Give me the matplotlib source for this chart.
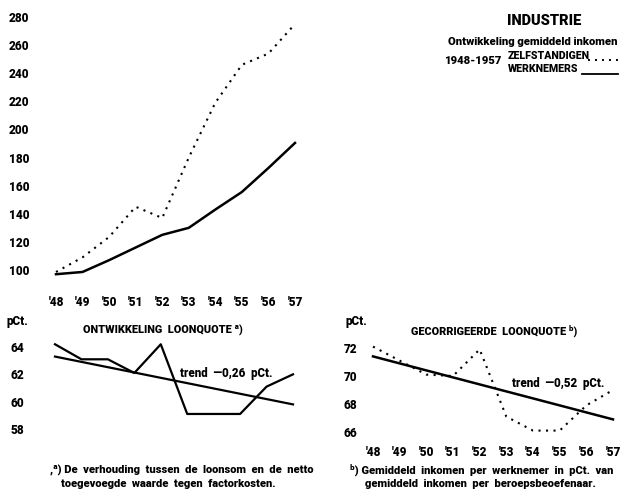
import matplotlib
matplotlib.use('Agg')
import matplotlib.pyplot as plt
from matplotlib.lines import Line2D

# ---------------- data ----------------
years = [48, 49, 50, 51, 52, 53, 54, 55, 56, 57]
year_labels = ["'48", "'49", "'50", "'51", "'52", "'53", "'54", "'55", "'56", "'57"]

zelfstandigen = [98.6, 109, 123.5, 145, 137, 180, 219, 246, 254, 275]
werknemers = [97, 98.6, 107, 116, 125, 130, 143, 155.5, 172.6, 190.4]
top_yticks = [100, 120, 140, 160, 180, 200, 220, 240, 260, 280]

loonquote = [64.2, 63.1, 63.1, 62.1, 64.2, 59.1, 59.1, 59.1, 61.1, 62.0]
loonquote_trend = [63.3, 59.8]          # value in '48 and in '57
loon_yticks = [58, 60, 62, 64]

gecorrigeerd = [72.1, 71.1, 70.1, 70.0, 71.9, 67.1, 66.1, 66.1, 67.9, 69.0]
gecorrigeerd_trend = [71.4, 66.9]       # value in '48 and in '57
gecorr_yticks = [66, 68, 70, 72]

# ---------------- style ----------------
W, H, DPI = 624, 500, 100
PT = 72 / DPI  # points per pixel
FONT = ['Roboto', 'DejaVu Sans']
WEIGHT = 'heavy'
plt.rcParams['font.family'] = FONT
plt.rcParams['font.weight'] = WEIGHT
DOT = (0, (1, 2.6))
TICK_FS = 8.5

fig = plt.figure(figsize=(W / DPI, H / DPI), dpi=DPI)
fig.patch.set_facecolor('white')


def make_axes(x0, x1, y_top, y_bot, xlim, ylim):
    ax = fig.add_axes([x0 / W, 1 - y_bot / H, (x1 - x0) / W, (y_bot - y_top) / H])
    ax.set_xlim(*xlim)
    ax.set_ylim(*ylim)
    for s in ax.spines.values():
        s.set_visible(False)
    ax.set_facecolor('none')
    ax.tick_params(length=0)
    return ax


def ftext(x, y, s, **kw):
    kw.setdefault('fontsize', 8)
    kw.setdefault('fontweight', WEIGHT)
    fig.text(x / W, 1 - y / H, s, **kw)


# ---------------- top chart ----------------
ax1 = make_axes(56, 295, 17, 270, (48, 57), (100, 280))
ax1.plot(years, zelfstandigen, color='black', lw=1.5, linestyle=DOT, clip_on=False)
ax1.plot(years, werknemers, color='black', lw=1.8, clip_on=False, solid_joinstyle='round')
ax1.set_yticks(top_yticks)
ax1.set_yticklabels([str(v) for v in top_yticks], fontsize=TICK_FS, fontweight=WEIGHT)
ax1.tick_params(axis='y', pad=27 * PT)
ax1.set_xticks(years)
ax1.set_xticklabels(year_labels, fontsize=TICK_FS, fontweight=WEIGHT)
ax1.tick_params(axis='x', pad=19)

# legend / title block
ftext(544, 21, 'INDUSTRIE', ha='center', va='center', fontsize=10.5)
ftext(618, 42, 'Ontwikkeling gemiddeld inkomen', ha='right', va='center', fontsize=8.1)
ftext(444, 61, '1948-1957', ha='left', va='center', fontsize=8.1)
ftext(508, 56, 'ZELFSTANDIGEN', ha='left', va='center', fontsize=7.6)
ftext(508, 69, 'WERKNEMERS', ha='left', va='center', fontsize=7.6)
fig.add_artist(Line2D([588 / W, 618 / W], [1 - 60 / H, 1 - 60 / H], color='black',
                      lw=1.4, linestyle=DOT))
fig.add_artist(Line2D([582 / W, 618 / W], [1 - 74 / H, 1 - 74 / H], color='black', lw=1.3))

# ---------------- bottom left chart ----------------
ax2 = make_axes(55, 293, 347, 429, (48, 57), (58, 64))
ax2.plot(years, loonquote, color='black', lw=1.6, clip_on=False)
ax2.plot([years[0], years[-1]], loonquote_trend, color='black', lw=1.6, clip_on=False)
ax2.set_yticks(loon_yticks)
ax2.set_yticklabels([str(v) for v in loon_yticks], fontsize=TICK_FS, fontweight=WEIGHT)
ax2.tick_params(axis='y', pad=31 * PT)
ax2.set_xticks([])
ftext(17, 321, 'pCt.', ha='center', va='center', fontsize=TICK_FS)
ftext(163, 330, 'ONTWIKKELING  LOONQUOTE \u1d43)', ha='center', va='center', fontsize=7.8)
ftext(180, 374, 'trend  \u20140,26  pCt.', ha='left', va='center', fontsize=8.3)
ftext(50, 470, ',\u1d43) De  verhouding  tussen  de  loonsom  en  de  netto', ha='left',
      va='center', fontsize=8.0)
ftext(61, 484, 'toegevoegde  waarde  tegen  factorkosten.', ha='left', va='center',
      fontsize=8.0)

# ---------------- bottom right chart ----------------
ax3 = make_axes(373, 613, 348, 432, (48, 57), (66, 72))
ax3.plot(years, gecorrigeerd, color='black', lw=1.5, linestyle=DOT, clip_on=False)
ax3.plot([years[0], years[-1]], gecorrigeerd_trend, color='black', lw=1.8, clip_on=False)
ax3.set_yticks(gecorr_yticks)
ax3.set_yticklabels([str(v) for v in gecorr_yticks], fontsize=TICK_FS, fontweight=WEIGHT)
ax3.tick_params(axis='y', pad=16 * PT)
ax3.set_xticks(years)
ax3.set_xticklabels(year_labels, fontsize=TICK_FS, fontweight=WEIGHT)
ax3.tick_params(axis='x', pad=14 * PT)
ftext(356, 321, 'pCt.', ha='center', va='center', fontsize=TICK_FS)
ftext(494, 331, 'GECORRIGEERDE  LOONQUOTE \u1d47)', ha='center', va='center', fontsize=7.8)
ftext(512, 383, 'trend  \u20140,52  pCt.', ha='left', va='center', fontsize=8.3)
ftext(350, 470, '\u1d47) Gemiddeld  inkomen  per  werknemer  in  pCt.  van', ha='left',
      va='center', fontsize=8.0)
ftext(365, 484, 'gemiddeld  inkomen  per  beroepsbeoefenaar.', ha='left', va='center',
      fontsize=8.0)

fig.savefig('out.png', dpi=DPI, facecolor='white')
